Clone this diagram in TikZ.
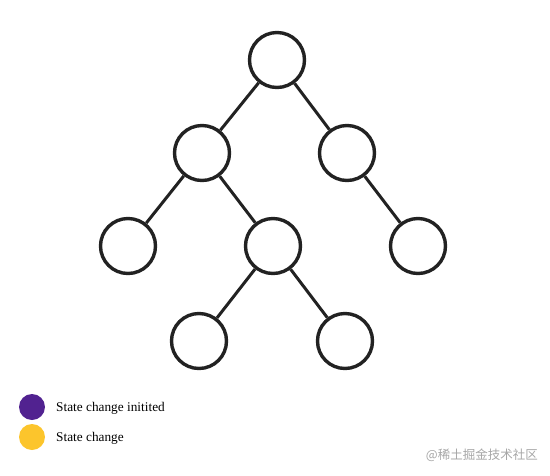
\documentclass[tikz,border=0pt]{standalone}
\usepackage{fontspec}
\setmainfont{Liberation Serif}
\newfontfamily\cjk{Noto Sans CJK SC}
\definecolor{ink}{HTML}{222222}
\definecolor{purp}{HTML}{512290}
\definecolor{yell}{HTML}{FCC52C}
\begin{document}
\begin{tikzpicture}[x=1pt,y=-1pt,
  tnode/.style={circle,draw=ink,line width=3.4pt,minimum size=55pt,inner sep=0pt,fill=white},
  edge/.style={draw=ink,line width=3pt},
  dot/.style={circle,minimum size=26pt,inner sep=0pt},
  lbl/.style={anchor=west,font=\fontsize{13.3}{15}\selectfont,text=black,inner sep=0pt}]
\useasboundingbox (0,0) rectangle (550,475);
\node[tnode] (r) at (277,60) {};
\node[tnode] (a) at (202,153) {};
\node[tnode] (b) at (347,153) {};
\node[tnode] (c) at (128,246) {};
\node[tnode] (d) at (273,246) {};
\node[tnode] (e) at (418,246) {};
\node[tnode] (f) at (199,341) {};
\node[tnode] (g) at (345,341) {};
\draw[edge] (r) -- (a);
\draw[edge] (r) -- (b);
\draw[edge] (a) -- (c);
\draw[edge] (a) -- (d);
\draw[edge] (b) -- (e);
\draw[edge] (d) -- (f);
\draw[edge] (d) -- (g);
\node[dot,fill=purp] (p) at (32,407) {};
\node[dot,fill=yell] (y) at (32,437) {};
\node[lbl] (pl) at (56,408) {State change initited};
\node[lbl] (yl) at (56,438) {State change};
\node[anchor=east,inner sep=0pt,text=black!35,font=\cjk\fontsize{12.5}{14}\selectfont] (wm) at (538,455) {@稀土掘金技术社区};
\end{tikzpicture}
\end{document}
